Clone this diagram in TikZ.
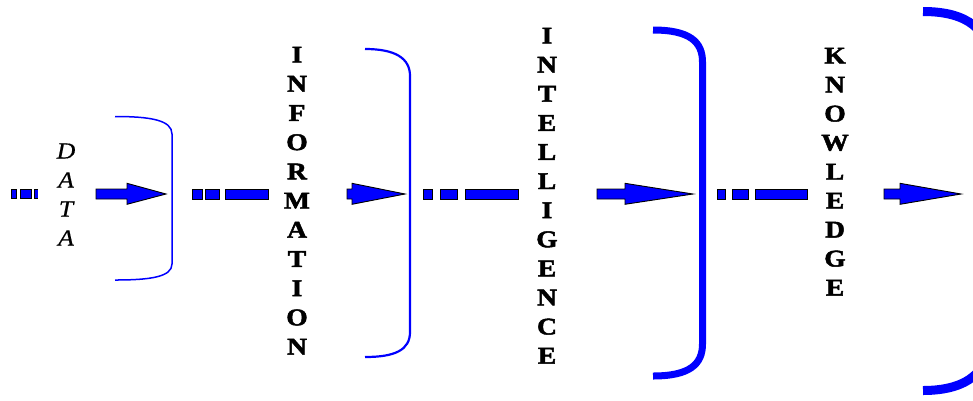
\documentclass[tikz,border=0pt]{standalone}
\usepackage{fontspec}
\setmainfont{Liberation Serif}
\newfontfamily\widebold[FakeStretch=1.15,FakeBold=2]{Liberation Serif Bold}
\newfontfamily\wideital[FakeStretch=1.12,FakeBold=0.5]{Liberation Serif Italic}
\begin{document}
\begin{tikzpicture}[x=1pt,y=-1pt,
  bar/.style={draw=black, fill=blue, line width=0.9pt},
  arr/.style={draw=black, fill=blue, line width=0.9pt, line join=miter},
  brk/.style={draw=blue, line cap=butt},
  word/.style={font=\fontsize{24}{24}\widebold, anchor=base, inner sep=0pt},
  dword/.style={font=\fontsize{23}{23}\wideital, anchor=base, inner sep=0pt}]
\useasboundingbox (0,0) rectangle (973,400);
\clip (0,0) rectangle (973,400);

% stage arrows: shaft start, head base, tip
\newcommand\stagearrow[3]{%
  \draw[arr] (#1,189) -- (#2,189) -- (#2,183.3) -- (#3,194) -- (#2,204.3)
    -- (#2,199) -- (#1,199) -- cycle;}
% dashed lead-in: three boxes of growing length
\newcommand\leadbar[6]{%
  \draw[bar] (#1,189) rectangle (#2,199);
  \draw[bar] (#3,189) rectangle (#4,199);
  \draw[bar] (#5,189) rectangle (#6,199);}

% left lead-in
\draw[bar] (11,189) rectangle (16,198);
\draw[bar] (20,189) rectangle (31,198);
\fill[blue] (34,189) rectangle (38,198);
\draw[black, line width=0.9pt] (38,189) -- (34,189) -- (34,198) -- (38,198);

% words
\foreach \ch [count=\k from 0] in {D,A,T,A}
  \node[dword] (data-\k) at (66,158.5+29*\k) {\ch};
\foreach \ch [count=\k from 0] in {I,N,F,O,R,M,A,T,I,O,N}
  \node[word] (info-\k) at (297,62.5+29.2*\k) {\ch};
\foreach \ch [count=\k from 0] in {I,N,T,E,L,L,I,G,E,N,C,E}
  \node[word] (intel-\k) at (547,43.5+29.1*\k) {\ch};
\foreach \ch [count=\k from 0] in {K,N,O,W,L,E,D,G,E}
  \node[word] (know-\k) at (835,63.5+29*\k) {\ch};

% arrows
\stagearrow{96}{127}{166}
\stagearrow{347}{352}{405}
\stagearrow{597}{625}{693}
\stagearrow{884}{900}{961}

% lead-ins between stages
\leadbar{192}{202}{205}{219}{225}{268}
\leadbar{423}{432}{440}{457}{465}{518}
\leadbar{717}{725}{732}{748}{755}{807}

% brackets
\draw[brk, line width=1.5pt] (115,116.5) .. controls (150,116.5) and (172,120) .. (172,134)
  -- (172,264) .. controls (172,277) and (150,280) .. (115,280);
\draw[brk, line width=2.2pt] (365,49) .. controls (395,49) and (410,58) .. (410,76)
  -- (410,332) .. controls (410,350) and (395,357) .. (365,357);
\draw[brk, line width=7pt] (653,30) .. controls (690,30) and (702.5,42) .. (702.5,62)
  -- (702.5,344) .. controls (702.5,364) and (690,376) .. (653,376);
\draw[brk, line width=9pt] (923,11.5) .. controls (968,11.5) and (990,30) .. (990,65)
  -- (990,336) .. controls (990,371) and (968,390.5) .. (923,390.5);
\end{tikzpicture}
\end{document}
